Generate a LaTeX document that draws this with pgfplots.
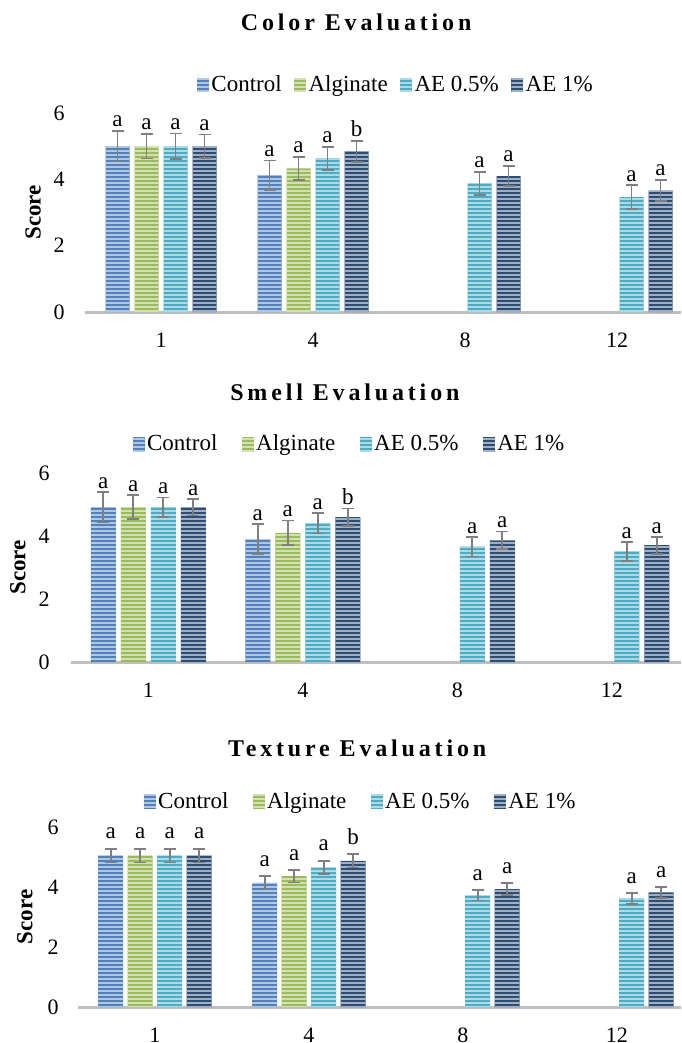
\documentclass[border=0pt]{standalone}
\usepackage{pgfplots}
\pgfplotsset{compat=1.18}
\usepackage{pgfplotstable}
\usetikzlibrary{patterns.meta}
\usepackage{fontspec}
\setmainfont{Liberation Serif}
\newfontfamily\titlefont[LetterSpace=16]{Liberation Serif}

\definecolor{cCtrl}{HTML}{4F81BD}
\definecolor{cAlg}{HTML}{9BBB59}
\definecolor{cAEa}{HTML}{4BACC6}
\definecolor{cAEb}{HTML}{2C4D75}
\definecolor{axgray}{HTML}{BFBFBF}
\definecolor{errgray}{HTML}{7F7F7F}

% ---------- Color ----------
\pgfplotstableread{
x y e l
0 5.00 0.46 a
1 4.12 0.45 a
}\cCtrlT
\pgfplotstableread{
x y e l
0 5.00 0.37 a
1 4.33 0.35 a
}\cAlgT
\pgfplotstableread{
x y e l
0 5.00 0.38 a
1 4.63 0.35 a
2 3.88 0.35 a
3 3.46 0.36 a
}\cAEaT
\pgfplotstableread{
x y e l
0 5.00 0.35 a
1 4.84 0.32 b
2 4.10 0.31 a
3 3.66 0.32 a
}\cAEbT
% ---------- Smell ----------
\pgfplotstableread{
x y e l
0 4.91 0.48 a
1 3.90 0.48 a
}\sCtrlT
\pgfplotstableread{
x y e l
0 4.91 0.38 a
1 4.10 0.39 a
}\sAlgT
\pgfplotstableread{
x y e l
0 4.91 0.31 a
1 4.40 0.32 a
2 3.66 0.31 a
3 3.51 0.31 a
}\sAEaT
\pgfplotstableread{
x y e l
0 4.91 0.26 a
1 4.60 0.27 b
2 3.86 0.28 a
3 3.71 0.27 a
}\sAEbT
% ---------- Texture ----------
\pgfplotstableread{
x y e l
0 5.05 0.23 a
1 4.14 0.22 a
}\tCtrlT
\pgfplotstableread{
x y e l
0 5.05 0.23 a
1 4.36 0.21 a
}\tAlgT
\pgfplotstableread{
x y e l
0 5.05 0.23 a
1 4.66 0.22 a
2 3.73 0.18 a
3 3.62 0.19 a
}\tAEaT
\pgfplotstableread{
x y e l
0 5.05 0.23 a
1 4.87 0.22 b
2 3.93 0.20 a
3 3.82 0.19 a
}\tAEbT

\pgfplotsset{
  evalaxis/.style={
    scale only axis, anchor=south west, clip=false,
    ymin=0, ymax=6, ytick={0,2,4,6},
    xmin=-0.5, xtick={0,1,2,3}, xticklabels={1,4,8,12},
    enlargelimits=false,
    axis x line=bottom, axis y line=left,
    x axis line style={-, line width=1.5pt, draw=axgray},
    y axis line style={draw=none},
    major tick length=0pt, tick style={draw=none},
    /pgf/number format/assume math mode=true,
    tick label style={font=\fontsize{11}{13}\selectfont},
    yticklabel style={anchor=east, inner sep=0pt},
    xticklabel style={anchor=center, inner sep=0pt, yshift=-14pt},
    ylabel={Score},
    ylabel style={anchor=center, font=\fontsize{11.5}{13}\selectfont\bfseries},
    every axis title/.style={at={(0.5,1)}, anchor=center},
    title style={font=\fontsize{12}{14}\selectfont\titlefont\bfseries},
    legend columns=4,
    legend style={anchor=center, draw=none, fill=none,
      font=\fontsize{11.5}{13}\selectfont, nodes={inner sep=1.2pt}},
  },
  sbar/.style={draw=none, fill=#1,
    postaction={pattern={Lines[angle=0,distance=2pt,line width=0.6pt]}, pattern color=#1!45!white},
    error bars/y dir=both, error bars/y explicit,
    error bars/error bar style={line width=0.9pt, draw=errgray},
    error bars/error mark options={rotate=90, line width=0.9pt, draw=errgray, mark size=3pt},
    nodes near coords, point meta=explicit symbolic,
    visualization depends on={\thisrow{e} \as \errv},
    legend image code/.code={\fill[##1] (0pt,-3.5pt) rectangle (6pt,3.5pt);}},
  lett/.style={every node near coord/.append style={font=\fontsize{11.5}{13}\selectfont, text=black,
      anchor=south, inner sep=0pt, shift={(axis direction cs:0,\errv)}, yshift=#1}},
}

\begin{document}
\begin{tikzpicture}
\path[use as bounding box] (0,0) rectangle (340.5pt,-521.5pt);

% ===== Color Evaluation =====
\begin{axis}[evalaxis, at={(42.5pt,-156pt)}, width=298pt, height=99.5pt, xmax=3.421,
  ybar=2.5pt, bar width=12pt, lett=1.8pt,
  yticklabel style={xshift=-10pt},
  ylabel style={at={(axis description cs:-0.087,0.5)}},
  title={Color Evaluation}, title style={at={(axis description cs:0.455,1.457)}},
  legend style={at={(axis description cs:0.522,1.141)},
    /tikz/every even column/.append style={column sep=5pt}}]
\addplot[sbar=cCtrl] table[x=x,y=y,y error=e,meta=l] {\cCtrlT};
\addplot[sbar=cAlg] table[x=x,y=y,y error=e,meta=l] {\cAlgT};
\addplot[sbar=cAEa] table[x=x,y=y,y error=e,meta=l] {\cAEaT};
\addplot[sbar=cAEb] table[x=x,y=y,y error=e,meta=l] {\cAEbT};
\legend{Control, Alginate, AE 0.5\%, AE 1\%}
\end{axis}

% ===== Smell Evaluation =====
\begin{axis}[evalaxis, at={(35.5pt,-331pt)}, width=305pt, height=94.5pt, xmax=3.448,
  ybar=2.5pt, bar width=12.5pt, lett=1.5pt,
  yticklabel style={xshift=-10.5pt},
  ylabel style={at={(axis description cs:-0.087,0.5)}},
  title={Smell Evaluation}, title style={at={(axis description cs:0.449,1.429)}},
  legend style={at={(axis description cs:0.457,1.153)},
    /tikz/every even column/.append style={column sep=11pt}}]
\addplot[sbar=cCtrl] table[x=x,y=y,y error=e,meta=l] {\sCtrlT};
\addplot[sbar=cAlg] table[x=x,y=y,y error=e,meta=l] {\sAlgT};
\addplot[sbar=cAEa] table[x=x,y=y,y error=e,meta=l] {\sAEaT};
\addplot[sbar=cAEb] table[x=x,y=y,y error=e,meta=l] {\sAEbT};
\legend{Control, Alginate, AE 0.5\%, AE 1\%}
\end{axis}

% ===== Texture Evaluation =====
\begin{axis}[evalaxis, at={(39pt,-503.5pt)}, width=301.5pt, height=90pt, xmax=3.416,
  ybar=2.25pt, bar width=12.5pt, lett=4.5pt,
  yticklabel style={xshift=-9.5pt},
  ylabel style={at={(axis description cs:-0.088,0.5)}},
  title={Texture Evaluation}, title style={at={(axis description cs:0.463,1.439)}},
  legend style={at={(axis description cs:0.469,1.139)},
    /tikz/every even column/.append style={column sep=11pt}}]
\addplot[sbar=cCtrl] table[x=x,y=y,y error=e,meta=l] {\tCtrlT};
\addplot[sbar=cAlg] table[x=x,y=y,y error=e,meta=l] {\tAlgT};
\addplot[sbar=cAEa] table[x=x,y=y,y error=e,meta=l] {\tAEaT};
\addplot[sbar=cAEb] table[x=x,y=y,y error=e,meta=l] {\tAEbT};
\legend{Control, Alginate, AE 0.5\%, AE 1\%}
\end{axis}
\end{tikzpicture}
\end{document}
